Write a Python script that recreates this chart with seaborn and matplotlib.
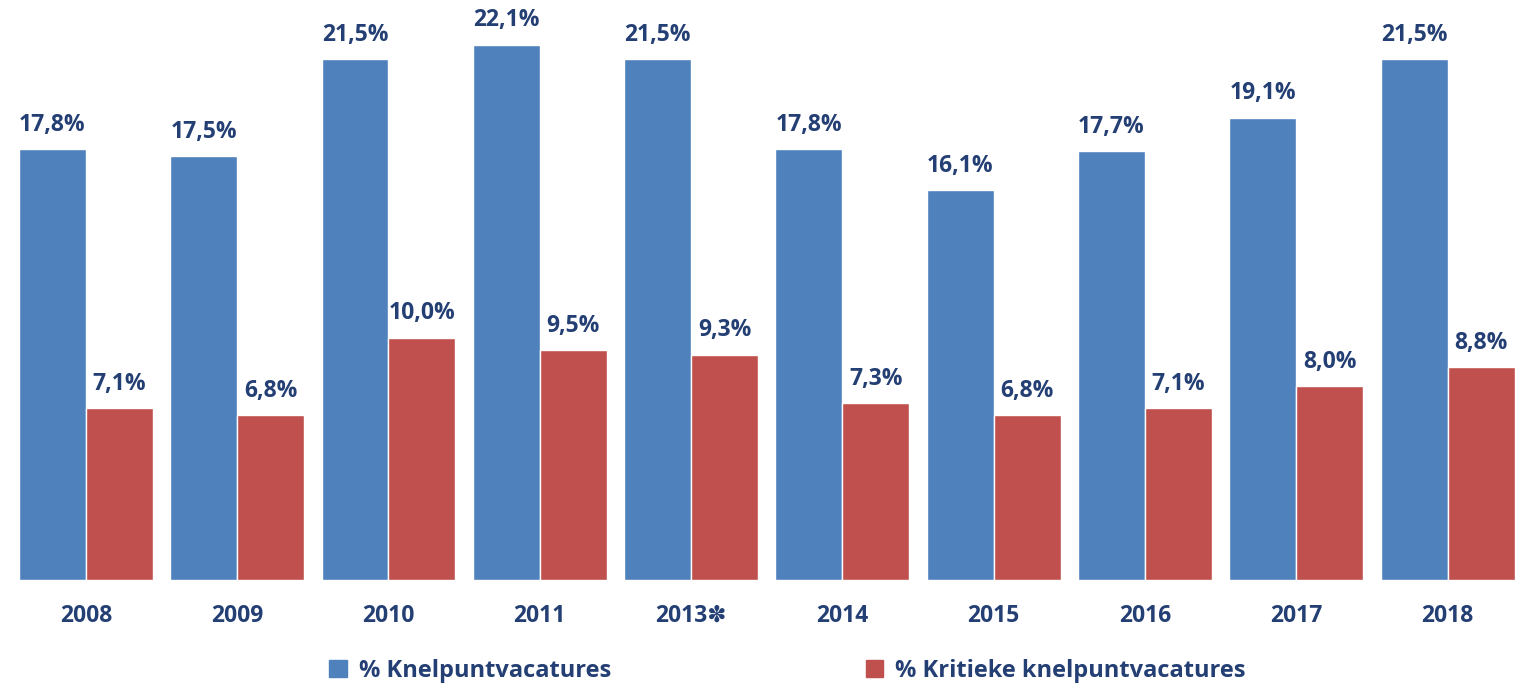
import pandas as pd
import matplotlib.pyplot as plt
import seaborn as sns

years = ['2008', '2009', '2010', '2011', '2013\u273d', '2014', '2015', '2016', '2017', '2018']
knelpunt = [17.8, 17.5, 21.5, 22.1, 21.5, 17.8, 16.1, 17.7, 19.1, 21.5]
kritiek = [7.1, 6.8, 10.0, 9.5, 9.3, 7.3, 6.8, 7.1, 8.0, 8.8]
series = ['% Knelpuntvacatures', '% Kritieke knelpuntvacatures']

df = pd.DataFrame({
    'jaar': years * 2,
    'waarde': knelpunt + kritiek,
    'reeks': [series[0]] * len(years) + [series[1]] * len(years),
})

sns.set_style('white')
plt.rcParams['font.family'] = ['Open Sans', 'DejaVu Sans']
navy = '#243f74'
colors = ['#4f81bd', '#c0504d']

fig = plt.figure(figsize=(15.26, 6.89), dpi=100)
ax = fig.add_axes([0.0067, 0.158, 0.9915, 0.826])
sns.barplot(data=df, x='jaar', y='waarde', hue='reeks', palette=colors,
            width=0.885, saturation=1, ax=ax, legend=False)

for cont in ax.containers:
    labels = [f'{v:.1f}%'.replace('.', ',') for v in cont.datavalues]
    ax.bar_label(cont, labels=labels, padding=9, fontsize=16.5,
                 fontweight='bold', color=navy)

ax.set_ylim(0, 23.5)
ax.set_xlim(-0.5, len(years) - 0.5)
ax.set_xlabel('')
ax.set_ylabel('')
ax.set_yticks([])
ax.tick_params(axis='x', length=0, pad=17, labelsize=16.5, labelcolor=navy)
for lbl in ax.get_xticklabels():
    lbl.set_fontweight('bold')
for s in ax.spines.values():
    s.set_visible(False)

handles = [plt.Rectangle((0, 0), 1, 1, color=c) for c in colors]
fig.legend(handles, series, loc='lower center', ncol=2, frameon=False,
           bbox_to_anchor=(0.516, -0.022), handlelength=0.75, handleheight=0.75,
           handletextpad=0.5, columnspacing=10.8,
           prop={'size': 17, 'weight': 'bold'}, labelcolor=navy)

fig.savefig('out.png', dpi=100)
